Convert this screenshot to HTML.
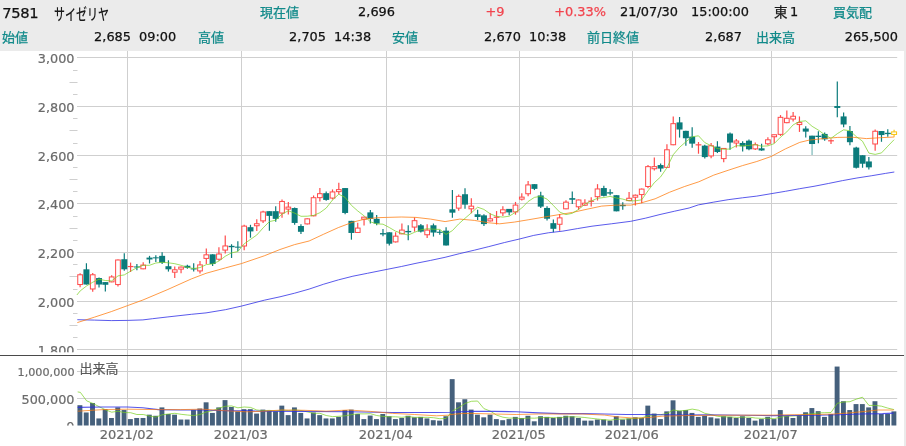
<!DOCTYPE html>
<html lang="ja"><head><meta charset="utf-8"><title>7581 サイゼリヤ</title>
<style>
html,body{margin:0;padding:0;background:#fff}
body{width:906px;height:446px;overflow:hidden;position:relative;font-family:"DejaVu Sans","Liberation Sans","Noto Sans CJK JP",sans-serif;color:#111}
.hdr{position:absolute;left:0;top:0;width:906px;height:51px;background:#ebebeb}
.hdr span{position:absolute;white-space:nowrap;line-height:1;-webkit-text-stroke:0.25px currentColor}
.r1{top:5.7px;font-size:12.9px}
.r2{top:31px;font-size:12.9px}
.t{color:#128a8a;font-family:"Noto Sans CJK JP","Liberation Sans",sans-serif;font-size:13px;margin-top:-0.5px;-webkit-text-stroke:0.15px currentColor}
.r2.t{margin-top:-1.4px}
.k{color:#1a1a1a;font-family:"Noto Sans CJK JP","Liberation Sans",sans-serif}
.red{color:#f2444e}
.ra{text-align:right}
svg{position:absolute;left:0;top:0}
svg text{stroke:#6a6a6a;stroke-width:0.2px;font-family:"DejaVu Sans","Liberation Sans","Noto Sans CJK JP",sans-serif}
</style></head><body>
<div class="hdr">
<span class="r1" style="left:2.3px;top:6.2px;font-size:14.7px;letter-spacing:-0.4px">7581</span>
<span class="r1 k" style="left:54.3px;top:5.5px;font-size:15.7px;font-weight:500;-webkit-text-stroke:0;transform-origin:0 0;transform:scaleX(0.70)">サイゼリヤ</span>
<span class="r1 t" style="left:260px">現在値</span>
<span class="r1 ra" style="right:511px">2,696</span>
<span class="r1 red" style="left:485.5px">+9</span>
<span class="r1 red ra" style="right:300px">+0.33%</span>
<span class="r1" style="left:620px">21/07/30</span>
<span class="r1" style="left:691px">15:00:00</span>
<span class="r1 k" style="left:774px;font-size:13.5px;margin-top:-0.8px">東</span><span class="r1" style="left:790px">1</span>
<span class="r1 t" style="left:833px">買気配</span>
<span class="r2 t" style="left:2px">始値</span>
<span class="r2 ra" style="right:775px">2,685</span>
<span class="r2" style="left:139px">09:00</span>
<span class="r2 t" style="left:198px">高値</span>
<span class="r2 ra" style="right:580px">2,705</span>
<span class="r2" style="left:334px">14:38</span>
<span class="r2 t" style="left:392px">安値</span>
<span class="r2 ra" style="right:385px">2,670</span>
<span class="r2" style="left:529px">10:38</span>
<span class="r2 t" style="left:587px">前日終値</span>
<span class="r2 ra" style="right:164px">2,687</span>
<span class="r2 t" style="left:756px">出来高</span>
<span class="r2 ra" style="right:8px">265,500</span>
</div>

<svg width="906" height="446" viewBox="0 0 906 446">
<defs><clipPath id="cm"><rect x="0" y="51" width="906" height="301.3"/></clipPath><clipPath id="cv"><rect x="0" y="356" width="906" height="69.6"/></clipPath></defs>
<rect x="904" y="51" width="2" height="395" fill="#ebebeb"/>
<g clip-path="url(#cm)">
<line x1="77" x2="897.2" y1="349.50" y2="349.50" stroke="#cfcfcf" stroke-width="1"/>
<text x="74.5" y="354.50" font-size="12.8" fill="#6a6a6a" text-anchor="end">1,800</text>
<line x1="73" x2="77.5" y1="337.50" y2="337.50" stroke="#cfcfcf" stroke-width="1"/>
<line x1="69.5" x2="77.5" y1="325.50" y2="325.50" stroke="#cfcfcf" stroke-width="1"/>
<line x1="73" x2="77.5" y1="313.50" y2="313.50" stroke="#cfcfcf" stroke-width="1"/>
<line x1="77" x2="897.2" y1="301.50" y2="301.50" stroke="#cfcfcf" stroke-width="1"/>
<text x="74.5" y="306.50" font-size="12.8" fill="#6a6a6a" text-anchor="end">2,000</text>
<line x1="73" x2="77.5" y1="289.50" y2="289.50" stroke="#cfcfcf" stroke-width="1"/>
<line x1="69.5" x2="77.5" y1="276.50" y2="276.50" stroke="#cfcfcf" stroke-width="1"/>
<line x1="73" x2="77.5" y1="264.50" y2="264.50" stroke="#cfcfcf" stroke-width="1"/>
<line x1="77" x2="897.2" y1="252.50" y2="252.50" stroke="#cfcfcf" stroke-width="1"/>
<text x="74.5" y="257.50" font-size="12.8" fill="#6a6a6a" text-anchor="end">2,200</text>
<line x1="73" x2="77.5" y1="240.50" y2="240.50" stroke="#cfcfcf" stroke-width="1"/>
<line x1="69.5" x2="77.5" y1="228.50" y2="228.50" stroke="#cfcfcf" stroke-width="1"/>
<line x1="73" x2="77.5" y1="216.50" y2="216.50" stroke="#cfcfcf" stroke-width="1"/>
<line x1="77" x2="897.2" y1="203.50" y2="203.50" stroke="#cfcfcf" stroke-width="1"/>
<text x="74.5" y="208.50" font-size="12.8" fill="#6a6a6a" text-anchor="end">2,400</text>
<line x1="73" x2="77.5" y1="191.50" y2="191.50" stroke="#cfcfcf" stroke-width="1"/>
<line x1="69.5" x2="77.5" y1="179.50" y2="179.50" stroke="#cfcfcf" stroke-width="1"/>
<line x1="73" x2="77.5" y1="167.50" y2="167.50" stroke="#cfcfcf" stroke-width="1"/>
<line x1="77" x2="897.2" y1="155.50" y2="155.50" stroke="#cfcfcf" stroke-width="1"/>
<text x="74.5" y="160.50" font-size="12.8" fill="#6a6a6a" text-anchor="end">2,600</text>
<line x1="73" x2="77.5" y1="143.50" y2="143.50" stroke="#cfcfcf" stroke-width="1"/>
<line x1="69.5" x2="77.5" y1="130.50" y2="130.50" stroke="#cfcfcf" stroke-width="1"/>
<line x1="73" x2="77.5" y1="118.50" y2="118.50" stroke="#cfcfcf" stroke-width="1"/>
<line x1="77" x2="897.2" y1="106.50" y2="106.50" stroke="#cfcfcf" stroke-width="1"/>
<text x="74.5" y="111.50" font-size="12.8" fill="#6a6a6a" text-anchor="end">2,800</text>
<line x1="73" x2="77.5" y1="94.50" y2="94.50" stroke="#cfcfcf" stroke-width="1"/>
<line x1="69.5" x2="77.5" y1="82.50" y2="82.50" stroke="#cfcfcf" stroke-width="1"/>
<line x1="73" x2="77.5" y1="70.50" y2="70.50" stroke="#cfcfcf" stroke-width="1"/>
<line x1="77" x2="897.2" y1="57.50" y2="57.50" stroke="#cfcfcf" stroke-width="1"/>
<text x="74.5" y="62.50" font-size="12.8" fill="#6a6a6a" text-anchor="end">3,000</text>
</g>
<line x1="127.50" x2="127.50" y1="51" y2="425.5" stroke="#cfcfcf" stroke-width="1"/>
<text x="126.70" y="438.5" font-size="13" fill="#6a6a6a" text-anchor="middle">2021/02</text>
<line x1="241.50" x2="241.50" y1="51" y2="425.5" stroke="#cfcfcf" stroke-width="1"/>
<text x="240.70" y="438.5" font-size="13" fill="#6a6a6a" text-anchor="middle">2021/03</text>
<line x1="386.50" x2="386.50" y1="51" y2="425.5" stroke="#cfcfcf" stroke-width="1"/>
<text x="385.70" y="438.5" font-size="13" fill="#6a6a6a" text-anchor="middle">2021/04</text>
<line x1="519.50" x2="519.50" y1="51" y2="425.5" stroke="#cfcfcf" stroke-width="1"/>
<text x="518.70" y="438.5" font-size="13" fill="#6a6a6a" text-anchor="middle">2021/05</text>
<line x1="632.50" x2="632.50" y1="51" y2="425.5" stroke="#cfcfcf" stroke-width="1"/>
<text x="631.70" y="438.5" font-size="13" fill="#6a6a6a" text-anchor="middle">2021/06</text>
<line x1="771.50" x2="771.50" y1="51" y2="425.5" stroke="#cfcfcf" stroke-width="1"/>
<text x="770.70" y="438.5" font-size="13" fill="#6a6a6a" text-anchor="middle">2021/07</text>
<line x1="77" x2="897.2" y1="371.50" y2="371.50" stroke="#cfcfcf" stroke-width="1"/>
<text x="74.5" y="375.80" font-size="11.2" fill="#6a6a6a" text-anchor="end">1,000,000</text>
<line x1="77" x2="897.2" y1="398.50" y2="398.50" stroke="#cfcfcf" stroke-width="1"/>
<text x="74.5" y="403.90" font-size="12.8" fill="#6a6a6a" text-anchor="end">500,000</text>
<g clip-path="url(#cv)"><text x="74.5" y="430.90" font-size="12.8" fill="#6a6a6a" text-anchor="end">0</text></g>
<text x="79.5" y="373.2" font-size="13" fill="#555" stroke-width="0" style="font-family:'Noto Sans CJK JP','Liberation Sans',sans-serif">出来高</text>
<line x1="0" x2="904" y1="355.5" y2="355.5" stroke="#4a4a4a" stroke-width="1"/>
<g fill="#45607c">
<rect x="77.45" y="405.19" width="4.9" height="20.31"/>
<rect x="83.76" y="412.48" width="4.9" height="13.02"/>
<rect x="90.07" y="402.98" width="4.9" height="22.52"/>
<rect x="96.38" y="418.44" width="4.9" height="7.06"/>
<rect x="102.69" y="409.16" width="4.9" height="16.34"/>
<rect x="109.00" y="417.99" width="4.9" height="7.51"/>
<rect x="115.31" y="407.40" width="4.9" height="18.10"/>
<rect x="121.62" y="410.05" width="4.9" height="15.45"/>
<rect x="127.93" y="419.10" width="4.9" height="6.40"/>
<rect x="134.24" y="417.99" width="4.9" height="7.51"/>
<rect x="140.55" y="417.99" width="4.9" height="7.51"/>
<rect x="146.86" y="414.68" width="4.9" height="10.82"/>
<rect x="153.17" y="415.79" width="4.9" height="9.71"/>
<rect x="159.48" y="407.40" width="4.9" height="18.10"/>
<rect x="165.79" y="414.02" width="4.9" height="11.48"/>
<rect x="172.10" y="414.68" width="4.9" height="10.82"/>
<rect x="178.41" y="419.54" width="4.9" height="5.96"/>
<rect x="184.72" y="419.54" width="4.9" height="5.96"/>
<rect x="191.03" y="410.05" width="4.9" height="15.45"/>
<rect x="197.34" y="408.50" width="4.9" height="17.00"/>
<rect x="203.65" y="402.32" width="4.9" height="23.18"/>
<rect x="209.96" y="412.92" width="4.9" height="12.58"/>
<rect x="216.27" y="407.40" width="4.9" height="18.10"/>
<rect x="222.58" y="400.11" width="4.9" height="25.39"/>
<rect x="228.89" y="406.96" width="4.9" height="18.54"/>
<rect x="235.20" y="411.37" width="4.9" height="14.13"/>
<rect x="241.51" y="409.16" width="4.9" height="16.34"/>
<rect x="247.82" y="409.16" width="4.9" height="16.34"/>
<rect x="254.13" y="413.58" width="4.9" height="11.92"/>
<rect x="260.44" y="409.61" width="4.9" height="15.89"/>
<rect x="266.75" y="410.71" width="4.9" height="14.79"/>
<rect x="273.06" y="411.37" width="4.9" height="14.13"/>
<rect x="279.37" y="405.63" width="4.9" height="19.87"/>
<rect x="285.68" y="415.12" width="4.9" height="10.38"/>
<rect x="291.99" y="407.40" width="4.9" height="18.10"/>
<rect x="298.30" y="412.92" width="4.9" height="12.58"/>
<rect x="304.61" y="418.44" width="4.9" height="7.06"/>
<rect x="310.92" y="412.48" width="4.9" height="13.02"/>
<rect x="317.23" y="415.12" width="4.9" height="10.38"/>
<rect x="323.54" y="418.44" width="4.9" height="7.06"/>
<rect x="329.85" y="418.44" width="4.9" height="7.06"/>
<rect x="336.16" y="416.89" width="4.9" height="8.61"/>
<rect x="342.47" y="410.05" width="4.9" height="15.45"/>
<rect x="348.78" y="409.61" width="4.9" height="15.89"/>
<rect x="355.09" y="414.02" width="4.9" height="11.48"/>
<rect x="361.40" y="419.10" width="4.9" height="6.40"/>
<rect x="367.71" y="415.57" width="4.9" height="9.93"/>
<rect x="374.02" y="419.10" width="4.9" height="6.40"/>
<rect x="380.33" y="414.02" width="4.9" height="11.48"/>
<rect x="386.64" y="416.23" width="4.9" height="9.27"/>
<rect x="392.95" y="419.10" width="4.9" height="6.40"/>
<rect x="399.26" y="417.99" width="4.9" height="7.51"/>
<rect x="405.57" y="415.79" width="4.9" height="9.71"/>
<rect x="411.88" y="417.33" width="4.9" height="8.17"/>
<rect x="418.19" y="416.89" width="4.9" height="8.61"/>
<rect x="424.50" y="418.44" width="4.9" height="7.06"/>
<rect x="430.81" y="420.20" width="4.9" height="5.30"/>
<rect x="437.12" y="420.64" width="4.9" height="4.86"/>
<rect x="443.43" y="416.23" width="4.9" height="9.27"/>
<rect x="449.74" y="379.14" width="4.9" height="46.36"/>
<rect x="456.05" y="402.32" width="4.9" height="23.18"/>
<rect x="462.36" y="399.23" width="4.9" height="26.27"/>
<rect x="468.67" y="409.61" width="4.9" height="15.89"/>
<rect x="474.98" y="414.68" width="4.9" height="10.82"/>
<rect x="481.29" y="417.33" width="4.9" height="8.17"/>
<rect x="487.60" y="414.68" width="4.9" height="10.82"/>
<rect x="493.91" y="419.10" width="4.9" height="6.40"/>
<rect x="500.22" y="420.20" width="4.9" height="5.30"/>
<rect x="506.53" y="419.10" width="4.9" height="6.40"/>
<rect x="512.84" y="416.89" width="4.9" height="8.61"/>
<rect x="519.15" y="417.99" width="4.9" height="7.51"/>
<rect x="525.46" y="415.79" width="4.9" height="9.71"/>
<rect x="531.77" y="421.31" width="4.9" height="4.19"/>
<rect x="538.08" y="416.23" width="4.9" height="9.27"/>
<rect x="544.39" y="416.89" width="4.9" height="8.61"/>
<rect x="550.70" y="417.99" width="4.9" height="7.51"/>
<rect x="557.01" y="416.89" width="4.9" height="8.61"/>
<rect x="563.32" y="415.79" width="4.9" height="9.71"/>
<rect x="569.63" y="416.23" width="4.9" height="9.27"/>
<rect x="575.94" y="417.99" width="4.9" height="7.51"/>
<rect x="582.25" y="420.64" width="4.9" height="4.86"/>
<rect x="588.56" y="420.64" width="4.9" height="4.86"/>
<rect x="594.87" y="419.54" width="4.9" height="5.96"/>
<rect x="601.18" y="419.54" width="4.9" height="5.96"/>
<rect x="607.49" y="420.64" width="4.9" height="4.86"/>
<rect x="613.80" y="416.23" width="4.9" height="9.27"/>
<rect x="620.11" y="419.54" width="4.9" height="5.96"/>
<rect x="626.42" y="418.44" width="4.9" height="7.06"/>
<rect x="632.73" y="417.33" width="4.9" height="8.17"/>
<rect x="639.04" y="417.99" width="4.9" height="7.51"/>
<rect x="645.35" y="405.63" width="4.9" height="19.87"/>
<rect x="651.66" y="413.58" width="4.9" height="11.92"/>
<rect x="657.97" y="419.10" width="4.9" height="6.40"/>
<rect x="664.28" y="411.37" width="4.9" height="14.13"/>
<rect x="670.59" y="400.33" width="4.9" height="25.17"/>
<rect x="676.90" y="410.71" width="4.9" height="14.79"/>
<rect x="683.21" y="410.05" width="4.9" height="15.45"/>
<rect x="689.52" y="412.92" width="4.9" height="12.58"/>
<rect x="695.83" y="416.89" width="4.9" height="8.61"/>
<rect x="702.14" y="415.79" width="4.9" height="9.71"/>
<rect x="708.45" y="417.33" width="4.9" height="8.17"/>
<rect x="714.76" y="418.44" width="4.9" height="7.06"/>
<rect x="721.07" y="416.23" width="4.9" height="9.27"/>
<rect x="727.38" y="416.89" width="4.9" height="8.61"/>
<rect x="733.69" y="417.99" width="4.9" height="7.51"/>
<rect x="740.00" y="416.23" width="4.9" height="9.27"/>
<rect x="746.31" y="417.99" width="4.9" height="7.51"/>
<rect x="752.62" y="420.64" width="4.9" height="4.86"/>
<rect x="758.93" y="419.10" width="4.9" height="6.40"/>
<rect x="765.24" y="416.89" width="4.9" height="8.61"/>
<rect x="771.55" y="419.10" width="4.9" height="6.40"/>
<rect x="777.86" y="410.05" width="4.9" height="15.45"/>
<rect x="784.17" y="415.79" width="4.9" height="9.71"/>
<rect x="790.48" y="417.99" width="4.9" height="7.51"/>
<rect x="796.79" y="415.12" width="4.9" height="10.38"/>
<rect x="803.10" y="412.25" width="4.9" height="13.25"/>
<rect x="809.41" y="408.06" width="4.9" height="17.44"/>
<rect x="815.72" y="411.15" width="4.9" height="14.35"/>
<rect x="822.03" y="416.89" width="4.9" height="8.61"/>
<rect x="828.34" y="414.02" width="4.9" height="11.48"/>
<rect x="834.65" y="366.56" width="4.9" height="58.94"/>
<rect x="840.96" y="401.22" width="4.9" height="24.28"/>
<rect x="847.27" y="410.05" width="4.9" height="15.45"/>
<rect x="853.58" y="404.09" width="4.9" height="21.41"/>
<rect x="859.89" y="404.09" width="4.9" height="21.41"/>
<rect x="866.20" y="407.40" width="4.9" height="18.10"/>
<rect x="872.51" y="401.22" width="4.9" height="24.28"/>
<rect x="878.82" y="414.02" width="4.9" height="11.48"/>
<rect x="885.13" y="414.02" width="4.9" height="11.48"/>
<rect x="891.44" y="411.37" width="4.9" height="14.13"/>
</g>
<polyline points="77.7,391.9 80.4,392.4 86.6,400.8 93.2,403.6 99.8,407.0 105.3,409.7 111.7,412.2 118.0,411.2 124.3,412.6 130.6,412.7 136.9,414.5 143.2,414.5 149.5,416.0 155.8,417.1 162.1,414.8 168.4,414.0 174.8,413.3 181.1,414.3 187.4,415.0 193.7,415.6 200.0,414.5 206.3,412.0 212.6,410.7 218.9,408.2 225.2,406.3 231.5,405.9 237.9,407.8 244.2,407.0 250.5,407.4 256.8,410.0 263.1,410.6 269.4,410.4 275.7,410.9 282.0,410.2 288.3,410.5 294.6,410.0 301.0,410.5 307.3,411.9 313.6,413.3 319.9,413.3 326.2,415.5 332.5,416.6 338.8,416.3 345.1,415.8 351.4,414.7 357.7,413.8 364.1,413.9 370.4,413.7 376.7,415.5 383.0,416.4 389.3,416.8 395.6,416.8 401.9,417.3 408.2,416.6 414.5,417.3 420.8,417.4 427.2,417.3 433.5,417.7 439.8,418.7 446.1,418.5 452.4,410.9 458.7,407.7 465.0,403.5 471.3,401.3 477.6,401.0 483.9,408.6 490.3,411.1 496.6,415.1 502.9,417.2 509.2,418.1 515.5,418.0 521.8,418.7 528.1,418.0 534.4,418.2 540.7,417.6 547.0,417.6 553.4,417.6 559.7,417.9 566.0,416.8 572.3,416.8 578.6,417.0 584.9,417.5 591.2,418.3 597.5,419.0 603.8,419.7 610.1,420.2 616.5,419.3 622.8,419.1 629.1,418.9 635.4,418.4 641.7,417.9 648.0,415.8 654.3,414.6 660.6,414.7 666.9,413.5 673.2,410.0 679.6,411.0 685.9,410.3 692.2,409.1 698.5,410.2 704.8,413.3 711.1,414.6 717.4,416.3 723.7,416.9 730.0,416.9 736.3,417.4 742.7,417.2 749.0,417.1 755.3,418.0 761.6,418.4 767.9,418.2 774.2,418.7 780.5,417.2 786.8,416.2 793.1,416.0 799.4,415.6 805.8,414.2 812.1,413.8 818.4,412.9 824.7,412.7 831.0,412.5 837.3,403.3 843.6,402.0 849.9,401.7 856.2,399.2 862.5,397.2 868.9,405.4 875.2,405.4 881.5,406.2 887.8,408.1 894.1,409.6" fill="none" stroke="#78d020" stroke-width="1.0" stroke-linejoin="round" stroke-opacity="0.7"/>
<polyline points="77.7,407.4 103.1,407.0 127.4,407.0 142.8,407.8 158.3,409.6 180.4,410.0 202.5,410.0 224.5,410.7 246.6,410.7 260.0,411.2 304.2,411.4 348.3,411.8 392.5,412.5 436.6,412.5 450.0,412.3 472.1,411.2 494.2,411.4 516.2,411.8 538.3,412.9 560.4,413.6 582.5,413.6 604.5,414.0 626.6,414.5 640.0,414.5 662.1,414.7 684.2,415.1 706.0,414.7 772.2,415.6 816.4,415.3 838.5,414.7 860.5,414.0 882.6,413.6 893.6,413.1" fill="none" stroke="#2b2be6" stroke-width="1.15" stroke-linejoin="round" stroke-opacity="0.8"/>
<polyline points="77.7,411.2 103.1,409.6 127.4,409.2 158.3,409.6 180.4,409.6 202.5,409.2 224.5,410.7 246.6,411.8 260.0,411.4 282.1,410.0 304.2,410.3 326.2,411.2 348.3,410.0 370.4,411.4 392.5,413.4 414.5,414.5 436.6,415.8 449.8,415.1 450.0,414.7 461.0,413.6 472.1,413.4 494.2,414.0 516.2,414.5 538.3,414.0 560.4,414.0 582.5,414.0 604.5,415.1 617.8,416.9 633.2,418.0 640.0,418.0 651.0,417.3 662.1,416.2 684.2,415.6 706.2,415.3 706.0,415.3 772.2,415.1 794.3,414.7 816.4,414.5 834.0,414.0 849.5,412.9 864.9,411.4 878.2,410.0 893.6,410.0" fill="none" stroke="#ff7a0a" stroke-width="1.0" stroke-linejoin="round" stroke-opacity="0.7"/>
<line x1="80.11" x2="80.11" y1="273.34" y2="287.20" stroke="#ff4a4a" stroke-width="1.2"/>
<rect x="77.76" y="274.78" width="4.7" height="9.76" fill="#fff" stroke="#ff4a4a" stroke-width="1"/>
<line x1="86.42" x2="86.42" y1="263.25" y2="284.51" stroke="#0b7b7b" stroke-width="1.2"/>
<rect x="83.42" y="269.31" width="6.0" height="15.20" fill="#0b7b7b"/>
<line x1="92.72" x2="92.72" y1="273.07" y2="291.77" stroke="#ff4a4a" stroke-width="1.2"/>
<rect x="90.38" y="274.78" width="4.7" height="14.20" fill="#fff" stroke="#ff4a4a" stroke-width="1"/>
<line x1="99.03" x2="99.03" y1="277.38" y2="287.47" stroke="#0b7b7b" stroke-width="1.2"/>
<rect x="96.03" y="278.05" width="6.0" height="6.46" fill="#0b7b7b"/>
<line x1="105.34" x2="105.34" y1="282.09" y2="291.50" stroke="#0b7b7b" stroke-width="1.2"/>
<rect x="102.34" y="282.09" width="6.0" height="2.69" fill="#0b7b7b"/>
<line x1="111.66" x2="111.66" y1="275.36" y2="282.36" stroke="#ff4a4a" stroke-width="1.2"/>
<rect x="109.31" y="276.94" width="4.7" height="4.92" fill="#fff" stroke="#ff4a4a" stroke-width="1"/>
<line x1="117.97" x2="117.97" y1="259.49" y2="286.39" stroke="#ff4a4a" stroke-width="1.2"/>
<rect x="115.62" y="259.99" width="4.7" height="24.56" fill="#fff" stroke="#ff4a4a" stroke-width="1"/>
<line x1="124.28" x2="124.28" y1="253.16" y2="270.65" stroke="#0b7b7b" stroke-width="1.2"/>
<rect x="121.28" y="259.22" width="6.0" height="10.09" fill="#0b7b7b"/>
<line x1="130.59" x2="130.59" y1="262.58" y2="272.00" stroke="#ff4a4a" stroke-width="1.2"/>
<line x1="127.69" x2="133.49" y1="266.55" y2="266.55" stroke="#ff4a4a" stroke-width="1.2"/>
<line x1="136.89" x2="136.89" y1="263.93" y2="270.25" stroke="#0b7b7b" stroke-width="1.2"/>
<rect x="133.89" y="266.48" width="6.0" height="1.00" fill="#0b7b7b"/>
<line x1="143.20" x2="143.20" y1="262.31" y2="269.31" stroke="#ff4a4a" stroke-width="1.2"/>
<rect x="140.85" y="265.10" width="4.7" height="3.71" fill="#fff" stroke="#ff4a4a" stroke-width="1"/>
<line x1="149.51" x2="149.51" y1="255.85" y2="263.52" stroke="#0b7b7b" stroke-width="1.2"/>
<rect x="146.51" y="257.60" width="6.0" height="1.88" fill="#0b7b7b"/>
<line x1="155.82" x2="155.82" y1="255.18" y2="261.91" stroke="#0b7b7b" stroke-width="1.2"/>
<rect x="152.82" y="257.33" width="6.0" height="1.00" fill="#0b7b7b"/>
<line x1="162.13" x2="162.13" y1="252.22" y2="263.93" stroke="#0b7b7b" stroke-width="1.2"/>
<rect x="159.13" y="255.85" width="6.0" height="6.73" fill="#0b7b7b"/>
<line x1="168.44" x2="168.44" y1="260.29" y2="271.59" stroke="#0b7b7b" stroke-width="1.2"/>
<rect x="165.44" y="266.21" width="6.0" height="3.09" fill="#0b7b7b"/>
<line x1="174.75" x2="174.75" y1="266.62" y2="278.05" stroke="#ff4a4a" stroke-width="1.2"/>
<rect x="172.41" y="269.81" width="4.7" height="2.36" fill="#fff" stroke="#ff4a4a" stroke-width="1"/>
<line x1="181.06" x2="181.06" y1="266.62" y2="273.34" stroke="#ff4a4a" stroke-width="1.2"/>
<rect x="178.72" y="267.10" width="4.7" height="2.00" fill="#fff" stroke="#ff4a4a" stroke-width="1"/>
<line x1="187.38" x2="187.38" y1="264.69" y2="268.72" stroke="#0b7b7b" stroke-width="1.2"/>
<rect x="184.38" y="265.76" width="6.0" height="2.02" fill="#0b7b7b"/>
<line x1="193.69" x2="193.69" y1="263.34" y2="271.41" stroke="#0b7b7b" stroke-width="1.2"/>
<rect x="190.69" y="268.45" width="6.0" height="1.00" fill="#0b7b7b"/>
<line x1="200.00" x2="200.00" y1="261.06" y2="273.43" stroke="#ff4a4a" stroke-width="1.2"/>
<rect x="197.65" y="264.92" width="4.7" height="6.00" fill="#fff" stroke="#ff4a4a" stroke-width="1"/>
<line x1="206.31" x2="206.31" y1="248.54" y2="264.02" stroke="#ff4a4a" stroke-width="1.2"/>
<rect x="203.96" y="254.83" width="4.7" height="3.57" fill="#fff" stroke="#ff4a4a" stroke-width="1"/>
<line x1="212.62" x2="212.62" y1="254.33" y2="266.03" stroke="#0b7b7b" stroke-width="1.2"/>
<rect x="209.62" y="254.33" width="6.0" height="9.69" fill="#0b7b7b"/>
<line x1="218.93" x2="218.93" y1="247.20" y2="260.65" stroke="#ff4a4a" stroke-width="1.2"/>
<rect x="216.58" y="254.02" width="4.7" height="5.19" fill="#fff" stroke="#ff4a4a" stroke-width="1"/>
<line x1="225.24" x2="225.24" y1="235.49" y2="253.52" stroke="#ff4a4a" stroke-width="1.2"/>
<rect x="222.89" y="245.95" width="4.7" height="4.11" fill="#fff" stroke="#ff4a4a" stroke-width="1"/>
<line x1="231.55" x2="231.55" y1="244.24" y2="257.96" stroke="#0b7b7b" stroke-width="1.2"/>
<rect x="228.55" y="245.85" width="6.0" height="1.35" fill="#0b7b7b"/>
<line x1="237.86" x2="237.86" y1="241.14" y2="251.23" stroke="#0b7b7b" stroke-width="1.2"/>
<rect x="234.86" y="246.66" width="6.0" height="1.00" fill="#0b7b7b"/>
<line x1="244.17" x2="244.17" y1="224.82" y2="250.25" stroke="#ff4a4a" stroke-width="1.2"/>
<rect x="241.82" y="226.11" width="4.7" height="19.88" fill="#fff" stroke="#ff4a4a" stroke-width="1"/>
<line x1="250.47" x2="250.47" y1="224.82" y2="237.69" stroke="#0b7b7b" stroke-width="1.2"/>
<rect x="247.47" y="227.18" width="6.0" height="4.24" fill="#0b7b7b"/>
<line x1="256.78" x2="256.78" y1="219.33" y2="231.10" stroke="#ff4a4a" stroke-width="1.2"/>
<rect x="254.43" y="223.74" width="4.7" height="2.00" fill="#fff" stroke="#ff4a4a" stroke-width="1"/>
<line x1="263.09" x2="263.09" y1="210.70" y2="222.94" stroke="#ff4a4a" stroke-width="1.2"/>
<rect x="260.74" y="211.98" width="4.7" height="8.89" fill="#fff" stroke="#ff4a4a" stroke-width="1"/>
<line x1="269.40" x2="269.40" y1="211.17" y2="230.79" stroke="#0b7b7b" stroke-width="1.2"/>
<rect x="266.40" y="211.17" width="6.0" height="4.71" fill="#0b7b7b"/>
<line x1="275.71" x2="275.71" y1="206.30" y2="221.68" stroke="#0b7b7b" stroke-width="1.2"/>
<rect x="272.71" y="211.17" width="6.0" height="7.69" fill="#0b7b7b"/>
<line x1="282.02" x2="282.02" y1="199.39" y2="217.76" stroke="#ff4a4a" stroke-width="1.2"/>
<rect x="279.67" y="201.46" width="4.7" height="11.56" fill="#fff" stroke="#ff4a4a" stroke-width="1"/>
<line x1="288.33" x2="288.33" y1="202.06" y2="214.62" stroke="#ff4a4a" stroke-width="1.2"/>
<rect x="285.98" y="207.11" width="4.7" height="2.00" fill="#fff" stroke="#ff4a4a" stroke-width="1"/>
<line x1="294.64" x2="294.64" y1="207.56" y2="224.82" stroke="#0b7b7b" stroke-width="1.2"/>
<rect x="291.64" y="208.03" width="6.0" height="14.91" fill="#0b7b7b"/>
<line x1="300.95" x2="300.95" y1="224.13" y2="234.08" stroke="#0b7b7b" stroke-width="1.2"/>
<rect x="297.95" y="226.01" width="6.0" height="5.79" fill="#0b7b7b"/>
<line x1="307.26" x2="307.26" y1="218.34" y2="224.40" stroke="#ff4a4a" stroke-width="1.2"/>
<rect x="304.91" y="218.84" width="4.7" height="5.05" fill="#fff" stroke="#ff4a4a" stroke-width="1"/>
<line x1="313.57" x2="313.57" y1="195.47" y2="216.32" stroke="#ff4a4a" stroke-width="1.2"/>
<rect x="311.22" y="197.72" width="4.7" height="18.10" fill="#fff" stroke="#ff4a4a" stroke-width="1"/>
<line x1="319.88" x2="319.88" y1="188.07" y2="201.53" stroke="#ff4a4a" stroke-width="1.2"/>
<rect x="317.53" y="193.68" width="4.7" height="3.98" fill="#fff" stroke="#ff4a4a" stroke-width="1"/>
<line x1="326.19" x2="326.19" y1="191.44" y2="200.85" stroke="#0b7b7b" stroke-width="1.2"/>
<rect x="323.19" y="193.18" width="6.0" height="6.73" fill="#0b7b7b"/>
<line x1="332.50" x2="332.50" y1="189.42" y2="199.51" stroke="#ff4a4a" stroke-width="1.2"/>
<rect x="330.15" y="191.94" width="4.7" height="6.13" fill="#fff" stroke="#ff4a4a" stroke-width="1"/>
<line x1="338.81" x2="338.81" y1="182.69" y2="194.13" stroke="#ff4a4a" stroke-width="1.2"/>
<rect x="336.46" y="189.63" width="4.7" height="2.00" fill="#fff" stroke="#ff4a4a" stroke-width="1"/>
<line x1="345.12" x2="345.12" y1="188.07" y2="214.31" stroke="#0b7b7b" stroke-width="1.2"/>
<rect x="342.12" y="188.07" width="6.0" height="24.89" fill="#0b7b7b"/>
<line x1="351.43" x2="351.43" y1="220.85" y2="239.69" stroke="#0b7b7b" stroke-width="1.2"/>
<rect x="348.43" y="220.85" width="6.0" height="12.11" fill="#0b7b7b"/>
<line x1="357.74" x2="357.74" y1="222.87" y2="232.96" stroke="#ff4a4a" stroke-width="1.2"/>
<rect x="355.39" y="228.08" width="4.7" height="4.38" fill="#fff" stroke="#ff4a4a" stroke-width="1"/>
<line x1="364.05" x2="364.05" y1="216.82" y2="225.56" stroke="#ff4a4a" stroke-width="1.2"/>
<rect x="361.70" y="217.16" width="4.7" height="2.00" fill="#fff" stroke="#ff4a4a" stroke-width="1"/>
<line x1="370.36" x2="370.36" y1="210.09" y2="223.54" stroke="#0b7b7b" stroke-width="1.2"/>
<rect x="367.36" y="212.38" width="6.0" height="6.46" fill="#0b7b7b"/>
<line x1="376.67" x2="376.67" y1="215.07" y2="225.29" stroke="#0b7b7b" stroke-width="1.2"/>
<rect x="373.67" y="218.83" width="6.0" height="4.71" fill="#0b7b7b"/>
<line x1="382.98" x2="382.98" y1="228.93" y2="236.32" stroke="#0b7b7b" stroke-width="1.2"/>
<rect x="379.98" y="233.10" width="6.0" height="1.35" fill="#0b7b7b"/>
<line x1="389.29" x2="389.29" y1="232.29" y2="245.47" stroke="#0b7b7b" stroke-width="1.2"/>
<rect x="386.29" y="232.29" width="6.0" height="11.44" fill="#0b7b7b"/>
<line x1="395.60" x2="395.60" y1="232.29" y2="242.38" stroke="#ff4a4a" stroke-width="1.2"/>
<rect x="393.25" y="236.15" width="4.7" height="5.73" fill="#fff" stroke="#ff4a4a" stroke-width="1"/>
<line x1="401.91" x2="401.91" y1="223.54" y2="234.31" stroke="#ff4a4a" stroke-width="1.2"/>
<rect x="399.56" y="230.10" width="4.7" height="3.71" fill="#fff" stroke="#ff4a4a" stroke-width="1"/>
<line x1="408.22" x2="408.22" y1="225.29" y2="240.36" stroke="#0b7b7b" stroke-width="1.2"/>
<rect x="405.22" y="230.94" width="6.0" height="1.35" fill="#0b7b7b"/>
<line x1="414.53" x2="414.53" y1="217.49" y2="231.62" stroke="#ff4a4a" stroke-width="1.2"/>
<rect x="412.18" y="220.68" width="4.7" height="6.40" fill="#fff" stroke="#ff4a4a" stroke-width="1"/>
<line x1="420.84" x2="420.84" y1="223.95" y2="232.56" stroke="#0b7b7b" stroke-width="1.2"/>
<rect x="417.84" y="225.29" width="6.0" height="6.32" fill="#0b7b7b"/>
<line x1="427.15" x2="427.15" y1="224.22" y2="237.94" stroke="#ff4a4a" stroke-width="1.2"/>
<rect x="424.80" y="230.10" width="4.7" height="4.65" fill="#fff" stroke="#ff4a4a" stroke-width="1"/>
<line x1="433.46" x2="433.46" y1="223.54" y2="236.59" stroke="#0b7b7b" stroke-width="1.2"/>
<rect x="430.46" y="225.29" width="6.0" height="7.26" fill="#0b7b7b"/>
<line x1="439.77" x2="439.77" y1="229.87" y2="234.71" stroke="#0b7b7b" stroke-width="1.2"/>
<rect x="436.77" y="231.75" width="6.0" height="1.08" fill="#0b7b7b"/>
<line x1="446.08" x2="446.08" y1="227.31" y2="245.47" stroke="#0b7b7b" stroke-width="1.2"/>
<rect x="443.08" y="230.67" width="6.0" height="14.80" fill="#0b7b7b"/>
<line x1="452.39" x2="452.39" y1="190.07" y2="217.78" stroke="#0b7b7b" stroke-width="1.2"/>
<rect x="449.39" y="209.31" width="6.0" height="3.36" fill="#0b7b7b"/>
<line x1="458.70" x2="458.70" y1="194.51" y2="210.65" stroke="#ff4a4a" stroke-width="1.2"/>
<rect x="456.35" y="196.35" width="4.7" height="11.78" fill="#fff" stroke="#ff4a4a" stroke-width="1"/>
<line x1="465.01" x2="465.01" y1="188.18" y2="208.63" stroke="#0b7b7b" stroke-width="1.2"/>
<rect x="462.01" y="194.24" width="6.0" height="10.36" fill="#0b7b7b"/>
<line x1="471.32" x2="471.32" y1="198.14" y2="213.34" stroke="#ff4a4a" stroke-width="1.2"/>
<rect x="468.97" y="206.17" width="4.7" height="2.63" fill="#fff" stroke="#ff4a4a" stroke-width="1"/>
<line x1="477.63" x2="477.63" y1="209.71" y2="220.07" stroke="#0b7b7b" stroke-width="1.2"/>
<rect x="474.63" y="214.28" width="6.0" height="2.69" fill="#0b7b7b"/>
<line x1="483.94" x2="483.94" y1="214.28" y2="226.12" stroke="#0b7b7b" stroke-width="1.2"/>
<rect x="480.94" y="215.36" width="6.0" height="8.74" fill="#0b7b7b"/>
<line x1="490.25" x2="490.25" y1="213.34" y2="221.41" stroke="#ff4a4a" stroke-width="1.2"/>
<rect x="487.90" y="218.82" width="4.7" height="2.09" fill="#fff" stroke="#ff4a4a" stroke-width="1"/>
<line x1="496.56" x2="496.56" y1="211.06" y2="224.51" stroke="#ff4a4a" stroke-width="1.2"/>
<line x1="493.66" x2="499.46" y1="217.24" y2="217.24" stroke="#ff4a4a" stroke-width="1.2"/>
<line x1="502.87" x2="502.87" y1="206.21" y2="216.03" stroke="#ff4a4a" stroke-width="1.2"/>
<rect x="500.52" y="209.81" width="4.7" height="3.04" fill="#fff" stroke="#ff4a4a" stroke-width="1"/>
<line x1="509.18" x2="509.18" y1="208.90" y2="215.36" stroke="#0b7b7b" stroke-width="1.2"/>
<rect x="506.18" y="208.90" width="6.0" height="3.50" fill="#0b7b7b"/>
<line x1="515.50" x2="515.50" y1="201.91" y2="214.69" stroke="#ff4a4a" stroke-width="1.2"/>
<rect x="513.14" y="205.10" width="4.7" height="6.80" fill="#fff" stroke="#ff4a4a" stroke-width="1"/>
<line x1="521.80" x2="521.80" y1="193.16" y2="200.56" stroke="#ff4a4a" stroke-width="1.2"/>
<rect x="519.45" y="197.14" width="4.7" height="2.00" fill="#fff" stroke="#ff4a4a" stroke-width="1"/>
<line x1="528.12" x2="528.12" y1="181.05" y2="196.26" stroke="#ff4a4a" stroke-width="1.2"/>
<rect x="525.76" y="184.92" width="4.7" height="8.82" fill="#fff" stroke="#ff4a4a" stroke-width="1"/>
<line x1="534.42" x2="534.42" y1="184.15" y2="190.07" stroke="#0b7b7b" stroke-width="1.2"/>
<rect x="531.42" y="184.15" width="6.0" height="4.71" fill="#0b7b7b"/>
<line x1="540.74" x2="540.74" y1="191.82" y2="207.96" stroke="#0b7b7b" stroke-width="1.2"/>
<rect x="537.74" y="195.45" width="6.0" height="11.17" fill="#0b7b7b"/>
<line x1="547.04" x2="547.04" y1="206.21" y2="220.47" stroke="#0b7b7b" stroke-width="1.2"/>
<rect x="544.04" y="207.96" width="6.0" height="10.76" fill="#0b7b7b"/>
<line x1="553.36" x2="553.36" y1="219.40" y2="232.18" stroke="#0b7b7b" stroke-width="1.2"/>
<rect x="550.36" y="223.16" width="6.0" height="5.65" fill="#0b7b7b"/>
<line x1="559.66" x2="559.66" y1="214.02" y2="230.83" stroke="#ff4a4a" stroke-width="1.2"/>
<rect x="557.31" y="217.88" width="4.7" height="6.40" fill="#fff" stroke="#ff4a4a" stroke-width="1"/>
<line x1="565.98" x2="565.98" y1="200.29" y2="209.31" stroke="#ff4a4a" stroke-width="1.2"/>
<rect x="563.62" y="202.14" width="4.7" height="6.67" fill="#fff" stroke="#ff4a4a" stroke-width="1"/>
<line x1="572.28" x2="572.28" y1="191.41" y2="203.93" stroke="#0b7b7b" stroke-width="1.2"/>
<rect x="569.28" y="198.14" width="6.0" height="1.61" fill="#0b7b7b"/>
<line x1="578.60" x2="578.60" y1="199.49" y2="209.71" stroke="#ff4a4a" stroke-width="1.2"/>
<rect x="576.25" y="199.99" width="4.7" height="6.80" fill="#fff" stroke="#ff4a4a" stroke-width="1"/>
<line x1="584.90" x2="584.90" y1="199.22" y2="205.94" stroke="#ff4a4a" stroke-width="1.2"/>
<rect x="582.55" y="203.19" width="4.7" height="2.00" fill="#fff" stroke="#ff4a4a" stroke-width="1"/>
<line x1="591.22" x2="591.22" y1="197.20" y2="206.62" stroke="#ff4a4a" stroke-width="1.2"/>
<line x1="588.32" x2="594.12" y1="201.23" y2="201.23" stroke="#ff4a4a" stroke-width="1.2"/>
<line x1="597.52" x2="597.52" y1="184.15" y2="200.56" stroke="#ff4a4a" stroke-width="1.2"/>
<rect x="595.17" y="188.95" width="4.7" height="7.74" fill="#fff" stroke="#ff4a4a" stroke-width="1"/>
<line x1="603.84" x2="603.84" y1="185.76" y2="196.53" stroke="#0b7b7b" stroke-width="1.2"/>
<rect x="600.84" y="188.05" width="6.0" height="7.80" fill="#0b7b7b"/>
<line x1="610.14" x2="610.14" y1="189.13" y2="195.18" stroke="#0b7b7b" stroke-width="1.2"/>
<rect x="607.14" y="192.22" width="6.0" height="1.35" fill="#0b7b7b"/>
<line x1="616.46" x2="616.46" y1="195.18" y2="211.32" stroke="#0b7b7b" stroke-width="1.2"/>
<rect x="613.46" y="195.18" width="6.0" height="16.14" fill="#0b7b7b"/>
<line x1="622.76" x2="622.76" y1="202.18" y2="209.71" stroke="#0b7b7b" stroke-width="1.2"/>
<rect x="619.76" y="204.87" width="6.0" height="1.35" fill="#0b7b7b"/>
<line x1="629.08" x2="629.08" y1="191.97" y2="201.12" stroke="#ff4a4a" stroke-width="1.2"/>
<rect x="626.73" y="198.26" width="4.7" height="2.36" fill="#fff" stroke="#ff4a4a" stroke-width="1"/>
<line x1="635.38" x2="635.38" y1="194.40" y2="205.43" stroke="#ff4a4a" stroke-width="1.2"/>
<rect x="633.03" y="195.21" width="4.7" height="2.00" fill="#fff" stroke="#ff4a4a" stroke-width="1"/>
<line x1="641.70" x2="641.70" y1="188.61" y2="203.14" stroke="#ff4a4a" stroke-width="1.2"/>
<rect x="639.35" y="189.11" width="4.7" height="5.46" fill="#fff" stroke="#ff4a4a" stroke-width="1"/>
<line x1="648.00" x2="648.00" y1="165.07" y2="188.34" stroke="#ff4a4a" stroke-width="1.2"/>
<rect x="645.65" y="166.64" width="4.7" height="19.85" fill="#fff" stroke="#ff4a4a" stroke-width="1"/>
<line x1="654.32" x2="654.32" y1="157.40" y2="170.45" stroke="#ff4a4a" stroke-width="1.2"/>
<rect x="651.97" y="166.64" width="4.7" height="2.09" fill="#fff" stroke="#ff4a4a" stroke-width="1"/>
<line x1="660.62" x2="660.62" y1="163.45" y2="171.79" stroke="#0b7b7b" stroke-width="1.2"/>
<rect x="657.62" y="165.07" width="6.0" height="3.50" fill="#0b7b7b"/>
<line x1="666.94" x2="666.94" y1="144.31" y2="167.85" stroke="#ff4a4a" stroke-width="1.2"/>
<rect x="664.59" y="149.78" width="4.7" height="17.57" fill="#fff" stroke="#ff4a4a" stroke-width="1"/>
<line x1="673.25" x2="673.25" y1="116.46" y2="145.25" stroke="#ff4a4a" stroke-width="1.2"/>
<rect x="670.89" y="123.68" width="4.7" height="21.06" fill="#fff" stroke="#ff4a4a" stroke-width="1"/>
<line x1="679.56" x2="679.56" y1="117.00" y2="137.58" stroke="#0b7b7b" stroke-width="1.2"/>
<rect x="676.56" y="122.38" width="6.0" height="7.13" fill="#0b7b7b"/>
<line x1="685.87" x2="685.87" y1="130.85" y2="145.65" stroke="#0b7b7b" stroke-width="1.2"/>
<rect x="682.87" y="130.85" width="6.0" height="7.40" fill="#0b7b7b"/>
<line x1="692.17" x2="692.17" y1="127.22" y2="147.67" stroke="#0b7b7b" stroke-width="1.2"/>
<rect x="689.17" y="136.64" width="6.0" height="7.00" fill="#0b7b7b"/>
<line x1="698.49" x2="698.49" y1="142.02" y2="153.72" stroke="#ff4a4a" stroke-width="1.2"/>
<line x1="695.59" x2="701.38" y1="144.84" y2="144.84" stroke="#ff4a4a" stroke-width="1.2"/>
<line x1="704.79" x2="704.79" y1="144.71" y2="158.43" stroke="#0b7b7b" stroke-width="1.2"/>
<rect x="701.79" y="145.65" width="6.0" height="11.44" fill="#0b7b7b"/>
<line x1="711.11" x2="711.11" y1="142.96" y2="158.16" stroke="#ff4a4a" stroke-width="1.2"/>
<rect x="708.75" y="145.75" width="4.7" height="10.17" fill="#fff" stroke="#ff4a4a" stroke-width="1"/>
<line x1="717.41" x2="717.41" y1="141.21" y2="153.05" stroke="#0b7b7b" stroke-width="1.2"/>
<rect x="714.41" y="146.59" width="6.0" height="5.38" fill="#0b7b7b"/>
<line x1="723.73" x2="723.73" y1="147.94" y2="162.20" stroke="#ff4a4a" stroke-width="1.2"/>
<rect x="721.38" y="148.44" width="4.7" height="10.17" fill="#fff" stroke="#ff4a4a" stroke-width="1"/>
<line x1="730.03" x2="730.03" y1="132.60" y2="149.69" stroke="#0b7b7b" stroke-width="1.2"/>
<rect x="727.03" y="133.54" width="6.0" height="9.01" fill="#0b7b7b"/>
<line x1="736.35" x2="736.35" y1="138.93" y2="147.40" stroke="#ff4a4a" stroke-width="1.2"/>
<rect x="734.00" y="141.02" width="4.7" height="2.00" fill="#fff" stroke="#ff4a4a" stroke-width="1"/>
<line x1="742.65" x2="742.65" y1="141.21" y2="151.44" stroke="#0b7b7b" stroke-width="1.2"/>
<rect x="739.65" y="142.96" width="6.0" height="3.36" fill="#0b7b7b"/>
<line x1="748.97" x2="748.97" y1="139.60" y2="150.36" stroke="#0b7b7b" stroke-width="1.2"/>
<rect x="745.97" y="140.67" width="6.0" height="8.61" fill="#0b7b7b"/>
<line x1="755.27" x2="755.27" y1="142.40" y2="150.07" stroke="#ff4a4a" stroke-width="1.2"/>
<rect x="752.92" y="144.78" width="4.7" height="4.11" fill="#fff" stroke="#ff4a4a" stroke-width="1"/>
<line x1="761.59" x2="761.59" y1="143.75" y2="150.74" stroke="#0b7b7b" stroke-width="1.2"/>
<rect x="758.59" y="148.32" width="6.0" height="2.15" fill="#0b7b7b"/>
<line x1="767.89" x2="767.89" y1="137.29" y2="145.36" stroke="#ff4a4a" stroke-width="1.2"/>
<rect x="765.54" y="139.81" width="4.7" height="3.98" fill="#fff" stroke="#ff4a4a" stroke-width="1"/>
<line x1="774.21" x2="774.21" y1="134.87" y2="143.34" stroke="#ff4a4a" stroke-width="1.2"/>
<rect x="771.86" y="134.74" width="4.7" height="2.00" fill="#fff" stroke="#ff4a4a" stroke-width="1"/>
<line x1="780.51" x2="780.51" y1="115.09" y2="135.94" stroke="#ff4a4a" stroke-width="1.2"/>
<rect x="778.16" y="117.34" width="4.7" height="17.03" fill="#fff" stroke="#ff4a4a" stroke-width="1"/>
<line x1="786.83" x2="786.83" y1="110.38" y2="123.16" stroke="#ff4a4a" stroke-width="1.2"/>
<rect x="784.48" y="118.28" width="4.7" height="4.38" fill="#fff" stroke="#ff4a4a" stroke-width="1"/>
<line x1="793.13" x2="793.13" y1="112.00" y2="121.41" stroke="#ff4a4a" stroke-width="1.2"/>
<rect x="790.78" y="116.26" width="4.7" height="2.77" fill="#fff" stroke="#ff4a4a" stroke-width="1"/>
<line x1="799.45" x2="799.45" y1="116.44" y2="131.91" stroke="#ff4a4a" stroke-width="1.2"/>
<rect x="797.10" y="122.57" width="4.7" height="2.00" fill="#fff" stroke="#ff4a4a" stroke-width="1"/>
<line x1="805.75" x2="805.75" y1="126.26" y2="137.56" stroke="#0b7b7b" stroke-width="1.2"/>
<rect x="802.75" y="128.54" width="6.0" height="3.09" fill="#0b7b7b"/>
<line x1="812.07" x2="812.07" y1="135.67" y2="144.02" stroke="#0b7b7b" stroke-width="1.2"/>
<line x1="812.07" x2="812.07" y1="144.02" y2="155.05" stroke="#0b7b7b" stroke-width="1.2" stroke-opacity="0.55"/>
<rect x="809.07" y="135.67" width="6.0" height="8.34" fill="#0b7b7b"/>
<line x1="818.38" x2="818.38" y1="131.23" y2="143.34" stroke="#0b7b7b" stroke-width="1.2"/>
<rect x="815.38" y="135.67" width="6.0" height="1.35" fill="#0b7b7b"/>
<line x1="824.68" x2="824.68" y1="132.58" y2="140.65" stroke="#0b7b7b" stroke-width="1.2"/>
<rect x="821.68" y="133.93" width="6.0" height="5.38" fill="#0b7b7b"/>
<line x1="831.00" x2="831.00" y1="139.31" y2="144.02" stroke="#ff4a4a" stroke-width="1.2"/>
<line x1="828.10" x2="833.89" y1="140.79" y2="140.79" stroke="#ff4a4a" stroke-width="1.2"/>
<line x1="837.30" x2="837.30" y1="81.44" y2="117.36" stroke="#0b7b7b" stroke-width="1.2"/>
<rect x="834.30" y="106.06" width="6.0" height="1.88" fill="#0b7b7b"/>
<line x1="843.62" x2="843.62" y1="112.38" y2="127.18" stroke="#0b7b7b" stroke-width="1.2"/>
<rect x="840.62" y="116.41" width="6.0" height="8.07" fill="#0b7b7b"/>
<line x1="849.92" x2="849.92" y1="126.05" y2="145.29" stroke="#0b7b7b" stroke-width="1.2"/>
<rect x="846.92" y="131.03" width="6.0" height="11.17" fill="#0b7b7b"/>
<line x1="856.24" x2="856.24" y1="146.64" y2="168.43" stroke="#0b7b7b" stroke-width="1.2"/>
<rect x="853.24" y="147.58" width="6.0" height="20.18" fill="#0b7b7b"/>
<line x1="862.54" x2="862.54" y1="155.25" y2="167.76" stroke="#0b7b7b" stroke-width="1.2"/>
<rect x="859.54" y="155.25" width="6.0" height="8.48" fill="#0b7b7b"/>
<line x1="868.86" x2="868.86" y1="157.00" y2="169.51" stroke="#0b7b7b" stroke-width="1.2"/>
<rect x="865.86" y="161.44" width="6.0" height="5.92" fill="#0b7b7b"/>
<line x1="875.16" x2="875.16" y1="129.42" y2="150.67" stroke="#ff4a4a" stroke-width="1.2"/>
<rect x="872.81" y="131.26" width="4.7" height="12.72" fill="#fff" stroke="#ff4a4a" stroke-width="1"/>
<line x1="881.48" x2="881.48" y1="131.03" y2="141.79" stroke="#0b7b7b" stroke-width="1.2"/>
<rect x="878.48" y="131.03" width="6.0" height="4.04" fill="#0b7b7b"/>
<line x1="887.78" x2="887.78" y1="129.15" y2="136.82" stroke="#0b7b7b" stroke-width="1.2"/>
<rect x="884.78" y="132.78" width="6.0" height="1.35" fill="#0b7b7b"/>
<line x1="894.10" x2="894.10" y1="129.69" y2="136.82" stroke="#f7c61c" stroke-width="1.2"/>
<rect x="891.64" y="131.88" width="4.9" height="2.6" fill="#fff" stroke="#f7c61c" stroke-width="1.05"/>
<polyline points="77.3,319.7 94.3,320.1 111.3,320.6 127.6,320.4 142.9,319.9 152.6,318.7 167.1,317.0 191.4,314.3 206.0,312.9 225.4,309.7 241.4,306.1 264.3,300.2 280.0,296.8 294.6,293.2 309.1,289.1 323.7,284.2 338.3,279.9 352.9,276.2 367.4,273.3 386.8,269.4 401.4,266.5 416.0,263.3 430.6,260.4 445.1,257.3 459.7,253.6 474.3,250.2 488.8,246.6 504.6,242.5 519.1,239.1 533.7,235.4 548.3,232.8 562.9,231.1 577.4,228.6 592.0,226.2 611.4,223.8 630.8,221.3 645.4,218.2 660.0,214.5 674.6,211.2 689.1,208.0 698.3,204.9 713.8,202.1 728.1,199.7 742.5,197.8 756.8,196.1 771.1,193.7 785.4,191.3 799.7,188.7 814.0,186.3 828.3,183.5 842.6,180.6 856.9,178.0 871.2,175.8 885.5,173.4 894.3,172.0" fill="none" stroke="#2b2be6" stroke-width="1.0" stroke-linejoin="round" stroke-opacity="0.78"/>
<polyline points="77.3,322.6 94.3,317.2 111.3,311.6 127.6,305.6 142.9,300.0 167.1,289.8 191.4,278.9 206.0,273.3 225.4,267.9 241.4,263.6 264.3,255.8 280.0,249.5 294.6,244.6 309.1,241.0 323.7,234.2 338.3,227.6 352.9,222.1 365.0,219.1 377.1,217.7 386.8,217.4 401.4,217.0 416.0,217.4 430.6,219.1 445.1,221.6 459.7,219.1 474.3,220.4 488.8,222.8 499.7,223.8 514.3,222.1 528.9,219.7 543.4,217.2 558.0,214.8 572.6,212.4 587.1,209.2 601.7,206.1 616.3,205.1 630.8,205.1 640.6,203.1 655.1,198.8 669.7,192.2 684.3,186.6 698.8,181.8 713.8,175.1 728.1,170.3 742.5,165.6 756.8,161.5 771.1,156.5 785.4,148.9 799.7,142.4 809.2,140.1 823.5,138.6 837.8,137.4 852.1,137.2 866.4,138.6 880.7,137.7 894.3,137.0" fill="none" stroke="#ff7a0a" stroke-width="1.0" stroke-linejoin="round" stroke-opacity="0.75"/>
<polyline points="76.9,295.0 80.2,290.9 86.5,286.0 92.8,282.2 99.1,279.2 105.3,280.5 111.7,280.9 118.0,275.9 124.3,274.9 130.6,271.2 136.9,267.7 143.2,265.3 149.5,265.3 155.8,263.0 162.1,262.3 168.4,262.8 174.8,263.7 181.1,265.3 187.4,267.3 193.7,268.5 200.0,267.6 206.3,264.6 212.6,263.9 218.9,261.1 225.2,256.3 231.5,252.9 237.9,251.5 244.2,243.8 250.5,239.4 256.8,235.0 263.1,227.9 269.4,221.6 275.7,220.2 282.0,214.1 288.3,210.8 294.6,213.1 301.0,216.3 307.3,216.2 313.6,215.4 319.9,212.7 326.2,208.1 332.5,200.0 338.8,194.2 345.1,197.4 351.4,205.3 357.7,210.9 364.1,215.9 370.4,221.8 376.7,223.9 383.0,224.2 389.3,227.5 395.6,231.2 401.9,233.4 408.2,235.1 414.5,232.3 420.8,229.9 427.2,228.7 433.5,229.2 439.8,229.4 446.1,234.4 452.4,230.6 458.7,223.9 465.0,218.3 471.3,212.9 477.6,207.2 483.9,209.4 490.3,213.9 496.6,216.4 502.9,217.1 509.2,216.2 515.5,212.3 521.8,208.0 528.1,201.5 534.4,197.4 540.7,196.3 547.0,199.1 553.4,205.5 559.7,212.1 566.0,214.6 572.3,213.3 578.6,209.4 584.9,204.2 591.2,201.0 597.5,198.3 603.8,197.5 610.1,196.4 616.5,198.0 622.8,199.1 629.1,200.9 635.4,200.8 641.7,199.8 648.0,190.8 654.3,182.7 660.6,176.9 666.9,167.8 673.2,154.7 679.6,147.3 685.9,141.8 692.2,136.8 698.5,135.8 704.8,142.6 711.1,145.7 717.4,148.5 723.7,149.3 730.0,149.0 736.3,145.7 742.7,145.9 749.0,145.4 755.3,144.6 761.6,146.2 767.9,145.9 774.2,143.6 780.5,137.2 786.8,131.9 793.1,124.9 799.4,121.5 805.8,120.8 812.1,126.3 818.4,130.1 824.7,134.8 831.0,138.4 837.3,133.7 843.6,129.8 849.9,130.8 856.2,136.5 862.5,141.2 868.9,153.1 875.2,154.4 881.5,152.9 887.8,146.2 894.1,139.7" fill="none" stroke="#78d020" stroke-width="1.0" stroke-linejoin="round" stroke-opacity="0.7"/>
</svg></body></html>
